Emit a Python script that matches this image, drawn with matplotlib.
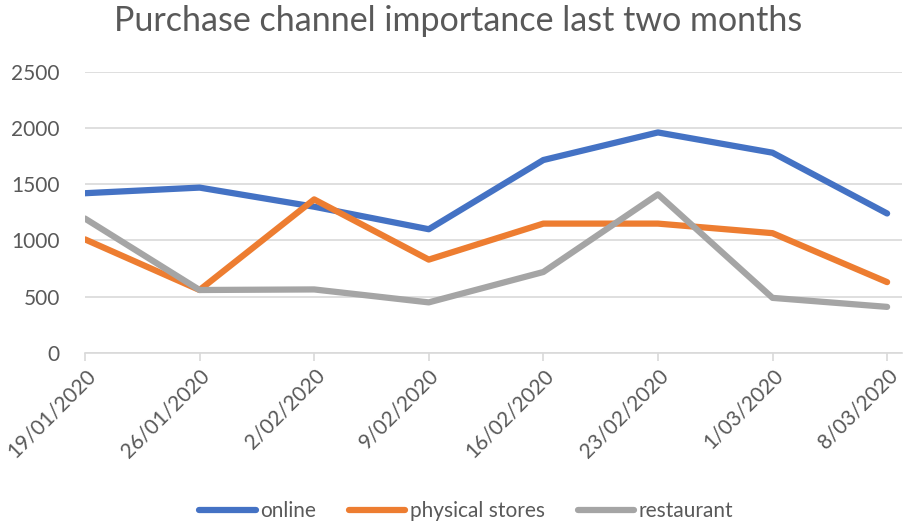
"""Purchase channel importance line chart."""

import matplotlib
matplotlib.use("Agg")
import matplotlib.pyplot as plt

dates = ["19/01/2020", "26/01/2020", "2/02/2020", "9/02/2020",
         "16/02/2020", "23/02/2020", "1/03/2020", "8/03/2020"]
online = [1420, 1470, 1300, 1100, 1715, 1960, 1780, 1240]
physical_stores = [1010, 560, 1365, 830, 1150, 1150, 1065, 630]
restaurant = [1195, 560, 565, 450, 720, 1410, 490, 410]
y_ticks = [0, 500, 1000, 1500, 2000, 2500]

TEXT = "#595959"
GRID = "#D9D9D9"

plt.rcParams["font.family"] = ["Lato", "DejaVu Sans"]

fig = plt.figure(figsize=(9.07, 5.24), dpi=100)
ax = fig.add_axes([0.0937, 0.3263, 0.9008, 0.5369])

x = list(range(len(dates)))
ax.plot(x, online, color="#4472C4", lw=4.5, label="online", solid_capstyle="round", solid_joinstyle="round")
ax.plot(x, physical_stores, color="#ED7D31", lw=4.5, label="physical stores", solid_capstyle="round", solid_joinstyle="round")
ax.plot(x, restaurant, color="#A5A5A5", lw=4.5, label="restaurant", solid_capstyle="round", solid_joinstyle="round")

ax.set_xlim(0, len(dates) - 1 + 0.13)
ax.set_ylim(0, 2500)
ax.set_yticks(y_ticks)
ax.set_yticklabels([str(v) for v in y_ticks])
ax.set_xticks(x)
ax.set_xticklabels(dates, rotation=45, ha="right", va="top", rotation_mode="anchor")

ax.yaxis.grid(True, color=GRID, lw=1.2)
ax.set_axisbelow(True)
for side in ["top", "right", "left"]:
    ax.spines[side].set_visible(False)
ax.spines["bottom"].set_color(GRID)
ax.spines["bottom"].set_linewidth(1.2)

ax.tick_params(axis="y", length=0, pad=18, labelsize=15, labelcolor=TEXT)
ax.tick_params(axis="x", length=6, width=1.2, color=GRID, pad=3, labelsize=15, labelcolor=TEXT)

fig.suptitle("Purchase channel importance last two months", x=0.505, y=0.99,
             fontsize=24.5, color=TEXT)

fig.legend(loc="lower center", bbox_to_anchor=(0.514, -0.03), ncol=3, frameon=False,
           fontsize=15, labelcolor=TEXT, handlelength=2.7, handletextpad=0.2,
           columnspacing=1.6)

fig.savefig("out.png", dpi=100)
